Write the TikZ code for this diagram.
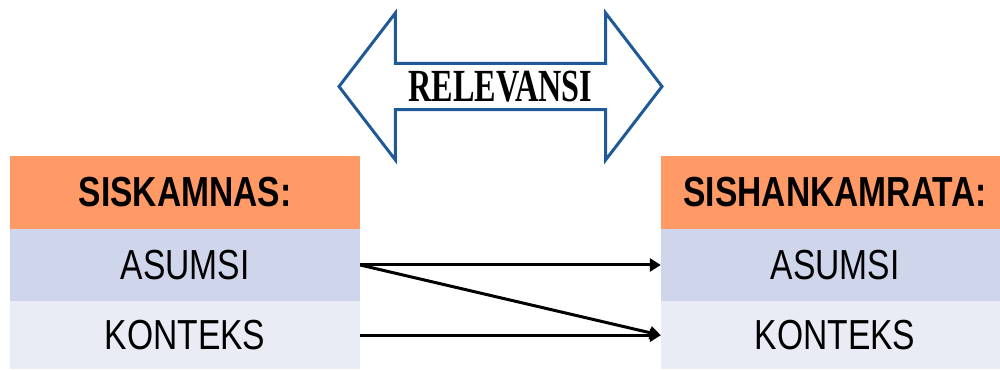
\documentclass[tikz,border=0pt]{standalone}
\usepackage{fontspec}
\usetikzlibrary{shapes.arrows,arrows.meta}
\newfontfamily\narrowsans[FakeStretch=0.8]{Liberation Sans}
\newfontfamily\narrowserif[FakeStretch=0.7]{Liberation Serif}
\definecolor{headorange}{RGB}{255,153,102}
\definecolor{rowblue}{RGB}{207,213,234}
\definecolor{rowpale}{RGB}{233,235,245}
\definecolor{arrowblue}{RGB}{31,90,150}
\begin{document}
\begin{tikzpicture}[x=1pt,y=1pt,
		cell/.style={inner sep=0pt,font=\narrowsans\fontsize{42}{42}\selectfont},
		headcell/.style={cell,fill=headorange,minimum height=73pt,font=\narrowsans\bfseries\fontsize{42}{42}\selectfont},
		linkarrow/.style={line width=3pt,-{Triangle[length=11pt,width=13pt]}}]
		\useasboundingbox (0,0) rectangle (1000,369);
		
		\node[double arrow,draw=arrowblue,line width=3pt,fill=white,
			minimum height=323pt,minimum width=147pt,
			double arrow head extend=37pt,double arrow tip angle=105,
			inner sep=0pt,font=\narrowserif\bfseries\fontsize{46}{46}\selectfont]
			at (500.5,282.5) (r) {RELEVANSI};
		
		\node[headcell,minimum width=350pt] at (185,176.5) (a) {SISKAMNAS:};
		\node[cell,fill=rowblue,minimum width=350pt,minimum height=72.5pt] at (185,104) (b) {ASUMSI};
		\node[cell,fill=rowpale,minimum width=350pt,minimum height=67.5pt] at (185,33.75) (c) {KONTEKS};
		
		\node[headcell,minimum width=348pt] at (835,176.5) (d) {SISHANKAMRATA:};
		\node[cell,fill=rowblue,minimum width=348pt,minimum height=72.5pt] at (835,104) (e) {ASUMSI};
		\node[cell,fill=rowpale,minimum width=348pt,minimum height=67.5pt] at (835,33.75) (f) {KONTEKS};
		
		\draw[linkarrow] (b.east) -- (e.west);
		\draw[linkarrow] (b.east) -- (f.west);
		\draw[linkarrow] (c.east) -- (f.west);
	\end{tikzpicture}
\end{document}
